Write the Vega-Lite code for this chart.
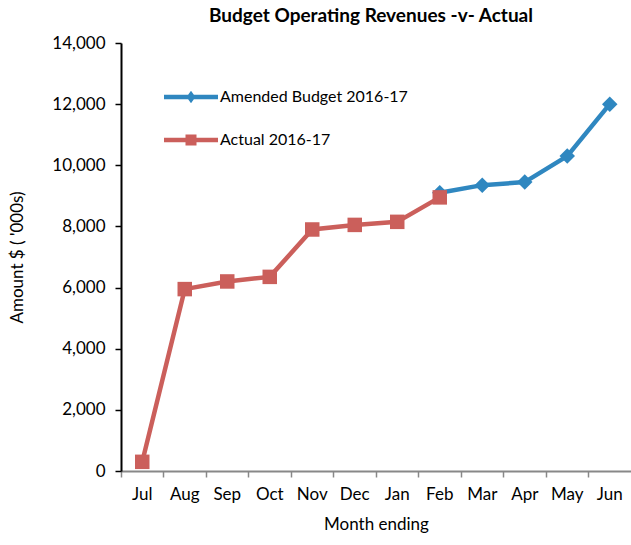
{
  "$schema": "https://vega.github.io/schema/vega-lite/v6.json",
  "width": 510,
  "height": 428,
  "autosize": {"type": "none"},
  "padding": {"left": 121, "top": 43, "right": 0, "bottom": 74},
  "background": "white",
  "title": {
    "text": "Budget Operating Revenues -v- Actual",
    "font": "Lato",
    "fontSize": 19,
    "fontWeight": "bold",
    "color": "black",
    "anchor": "middle",
    "offset": 8,
    "dx": -5
  },
  "config": {
    "view": {"stroke": null},
    "font": "Lato"
  },
  "data": {
    "values": [
      {"series": "Actual 2016-17", "month": "Jul", "value": 300},
      {"series": "Actual 2016-17", "month": "Aug", "value": 5950},
      {"series": "Actual 2016-17", "month": "Sep", "value": 6200},
      {"series": "Actual 2016-17", "month": "Oct", "value": 6350},
      {"series": "Actual 2016-17", "month": "Nov", "value": 7900},
      {"series": "Actual 2016-17", "month": "Dec", "value": 8050},
      {"series": "Actual 2016-17", "month": "Jan", "value": 8150},
      {"series": "Actual 2016-17", "month": "Feb", "value": 8950},
      {"series": "Amended Budget 2016-17", "month": "Feb", "value": 9100},
      {"series": "Amended Budget 2016-17", "month": "Mar", "value": 9350},
      {"series": "Amended Budget 2016-17", "month": "Apr", "value": 9450},
      {"series": "Amended Budget 2016-17", "month": "May", "value": 10300},
      {"series": "Amended Budget 2016-17", "month": "Jun", "value": 12000}
    ]
  },
  "encoding": {
    "x": {
      "field": "month",
      "type": "ordinal",
      "sort": ["Jul", "Aug", "Sep", "Oct", "Nov", "Dec", "Jan", "Feb", "Mar", "Apr", "May", "Jun"],
      "scale": {"type": "band", "paddingInner": 0, "paddingOuter": 0, "domain": ["Jul", "Aug", "Sep", "Oct", "Nov", "Dec", "Jan", "Feb", "Mar", "Apr", "May", "Jun"]},
      "axis": {
        "title": "Month ending",
        "titleFont": "Lato",
        "titleFontSize": 17,
        "titleFontWeight": "normal",
        "titleColor": "black",
        "titlePadding": 14,
        "labelAngle": 0,
        "labelFont": "Lato",
        "labelFontSize": 17,
        "labelColor": "black",
        "labelPadding": 9,
        "bandPosition": 0,
        "tickSize": 6,
        "tickColor": "#888888",
        "tickWidth": 1.5,
        "domainColor": "#888888",
        "domainWidth": 2,
        "grid": false
      }
    },
    "y": {
      "field": "value",
      "type": "quantitative",
      "scale": {"domain": [0, 14000], "nice": false},
      "axis": {
        "title": "Amount $ ( '000s)",
        "titleFont": "Lato",
        "titleFontSize": 17,
        "titleFontWeight": "normal",
        "titleColor": "black",
        "titleAngle": -90,
        "titleX": -104,
        "titleY": 214,
        "titleAlign": "center",
        "titleBaseline": "middle",
        "values": [0, 2000, 4000, 6000, 8000, 10000, 12000, 14000],
        "format": ",.0f",
        "labelFont": "Lato",
        "labelFontSize": 17,
        "labelColor": "black",
        "labelPadding": 10,
        "tickSize": 6,
        "tickColor": "black",
        "tickWidth": 1.5,
        "domainColor": "black",
        "domainWidth": 2,
        "grid": false
      }
    },
    "color": {
      "field": "series",
      "type": "nominal",
      "scale": {
        "domain": ["Amended Budget 2016-17", "Actual 2016-17"],
        "range": ["#2F87C0", "#CB5F5B"]
      },
      "legend": {
        "title": null,
        "orient": "none",
        "legendX": 60,
        "legendY": 44,
        "padding": 0,
        "symbolSize": 400,
        "rowPadding": 25,
        "labelOffset": 19,
        "labelLimit": 0,
        "labelFont": "Lato",
        "labelFontSize": 16,
        "labelColor": "black",
        "encode": {
          "symbols": {
            "update": {
              "shape": {"signal": "datum.value === 'Actual 2016-17' ? 'M-2.7,-0.22H2.7V0.22H-2.7Z M-0.55,-0.55H0.55V0.55H-0.55Z' : 'M-2.7,-0.22H2.7V0.22H-2.7Z M0,-0.62L0.45,0L0,0.62L-0.45,0Z'"},
              "fill": {"signal": "scale('color', datum.value)"},
              "fillOpacity": {"value": 1},
              "strokeWidth": {"value": 0}
            }
          }
        }
      }
    }
  },
  "layer": [
    {
      "transform": [{"filter": "datum.series === 'Amended Budget 2016-17'"}],
      "mark": {"type": "line", "strokeWidth": 4.5}
    },
    {
      "transform": [{"filter": "datum.series === 'Amended Budget 2016-17'"}],
      "mark": {"type": "point", "shape": "diamond", "filled": true, "opacity": 1, "size": 240}
    },
    {
      "transform": [{"filter": "datum.series === 'Actual 2016-17'"}],
      "mark": {"type": "line", "strokeWidth": 4.5}
    },
    {
      "transform": [{"filter": "datum.series === 'Actual 2016-17'"}],
      "mark": {"type": "point", "shape": "square", "filled": true, "opacity": 1, "size": 210}
    }
  ]
}
